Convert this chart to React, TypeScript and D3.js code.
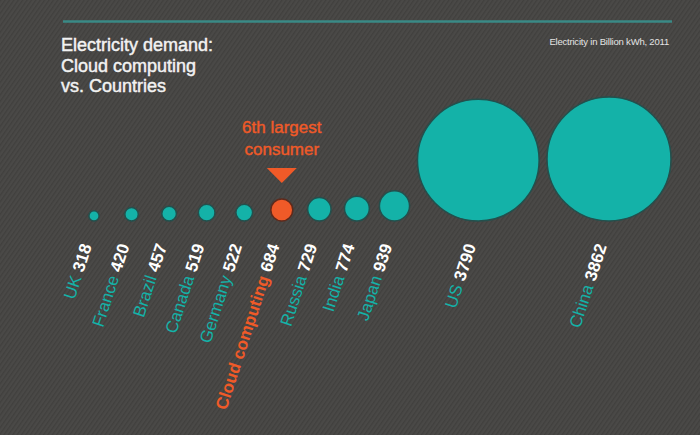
import React, { useEffect, useRef } from 'react';
import * as d3 from 'd3';

// Electricity demand in billion kWh, 2011
const consumers = ['UK', 'France', 'Brazil', 'Canada', 'Germany', 'Cloud computing', 'Russia', 'India', 'Japan', 'US', 'China'];
const demand = [318, 420, 457, 519, 522, 684, 729, 774, 939, 3790, 3862];
const highlighted = 'Cloud computing';

const titleLines = ['Electricity demand:', 'Cloud computing', 'vs. Countries'];
const unitNote = 'Electricity in Billion kWh, 2011';
const calloutLines = ['6th largest', 'consumer'];

const TEAL = '#14b2a8';
const ORANGE = '#f05a28';

const App: React.FC = () => {
  const svgRef = useRef<SVGSVGElement | null>(null);

  useEffect(() => {
    if (!svgRef.current) return;
    const width = 700;
    const height = 435;
    const baseline = 221;
    const font = '"Liberation Sans", Arial, sans-serif';

    const svg = d3.select(svgRef.current);
    svg.selectAll('*').remove();
    svg.attr('width', width).attr('height', height);

    // striped dark background
    const defs = svg.append('defs');
    const pat = defs.append('pattern')
      .attr('id', 'stripes')
      .attr('patternUnits', 'userSpaceOnUse')
      .attr('width', 3.6)
      .attr('height', 4)
      .attr('patternTransform', 'rotate(35)');
    pat.append('rect').attr('width', 3.6).attr('height', 4).attr('fill', '#4a4947');
    pat.append('rect').attr('width', 1.3).attr('height', 4).attr('fill', '#41403e');

    svg.append('rect').attr('width', width).attr('height', height).attr('fill', 'url(#stripes)');

    // header rule + titles
    svg.append('line')
      .attr('x1', 63).attr('x2', 672)
      .attr('y1', 21.5).attr('y2', 21.5)
      .attr('stroke', '#3a8a86')
      .attr('stroke-width', 2.5);

    svg.append('g').selectAll('text')
      .data(titleLines)
      .join('text')
      .attr('x', 61)
      .attr('y', (d, i) => 51 + i * 20.5)
      .attr('font-family', font)
      .attr('font-size', 18)
      .attr('fill', '#f2f2f2')
      .attr('stroke', '#f2f2f2')
      .attr('stroke-width', 0.45)
      .text(d => d);

    svg.append('text')
      .attr('x', 669)
      .attr('y', 44.5)
      .attr('text-anchor', 'end')
      .attr('font-family', font)
      .attr('font-size', 9.5)
      .attr('letter-spacing', -0.2)
      .attr('fill', '#e4e4e4')
      .text(unitNote);

    // radius grows linearly with demand
    const r = d3.scaleLinear()
      .domain([0, d3.max(demand) as number])
      .range([0, 62]);

    // place centres at a fixed step unless neighbouring circles would overlap
    const minStep = 37.6;
    const pad = 8;
    const offsets: number[] = [];
    demand.forEach((v, i) => {
      if (i === 0) { offsets.push(0); return; }
      const step = Math.max(minStep, r(demand[i - 1]) + r(v) + pad);
      offsets.push(offsets[i - 1] + step);
    });
    const x = d3.scaleLinear()
      .domain([0, offsets[offsets.length - 1]])
      .range([94, 609]);

    const rows = consumers.map((name, i) => ({
      name,
      value: demand[i],
      cx: x(offsets[i]),
      rad: r(demand[i]),
      hot: name === highlighted,
    }));

    svg.append('g').selectAll('circle')
      .data(rows)
      .join('circle')
      .attr('cx', d => d.cx)
      .attr('cy', d => baseline - d.rad)
      .attr('r', d => d.rad)
      .attr('fill', d => (d.hot ? ORANGE : TEAL))
      .attr('stroke', d => (d.hot ? '#5e2a1c' : '#23504d'))
      .attr('stroke-width', 1.5);

    // rotated labels: name + value
    const labels = svg.append('g').selectAll('text')
      .data(rows)
      .join('text')
      .attr('transform', d => `translate(${d.cx - 2},246) rotate(-72)`)
      .attr('text-anchor', 'end')
      .attr('font-family', font)
      .attr('font-size', 17);

    labels.append('tspan')
      .attr('fill', d => (d.hot ? ORANGE : TEAL))
      .attr('font-weight', d => (d.hot ? 'bold' : 'normal'))
      .text(d => d.name);

    labels.append('tspan')
      .attr('dx', 5)
      .attr('fill', '#ffffff')
      .attr('font-weight', 'bold')
      .text(d => d.value);

    // callout above the highlighted consumer
    const hot = rows.find(d => d.hot);
    if (hot) {
      const tip = baseline - 2 * hot.rad - 16;
      const base = tip - 15;
      svg.append('path')
        .attr('d', `M${hot.cx - 15},${base}L${hot.cx + 15},${base}L${hot.cx},${tip}Z`)
        .attr('fill', ORANGE);

      svg.append('g').selectAll('text')
        .data(calloutLines)
        .join('text')
        .attr('x', hot.cx)
        .attr('y', (d, i) => base - 35 + i * 22)
        .attr('text-anchor', 'middle')
        .attr('font-family', font)
        .attr('font-size', 17)
        .attr('fill', ORANGE)
        .attr('stroke', ORANGE)
        .attr('stroke-width', 0.4)
        .text(d => d);
    }
  }, []);

  return (
    <svg ref={svgRef} style={{ position: 'absolute', left: 0, top: 0, display: 'block' }} />
  );
};

export default App;
